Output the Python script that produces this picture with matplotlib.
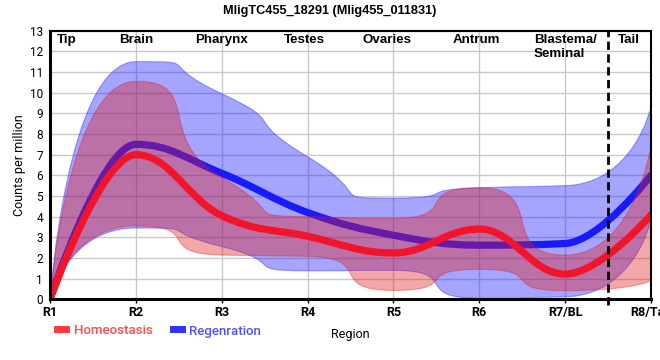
import matplotlib
matplotlib.use('Agg')
import matplotlib.pyplot as plt
from matplotlib.path import Path
from matplotlib.patches import PathPatch, Patch

# data =======================================================================
regions = ['R1', 'R2', 'R3', 'R4', 'R5', 'R6', 'R7/BL', 'R8/Tail']
tissues = ['Tip', 'Brain', 'Pharynx', 'Testes', 'Ovaries', 'Antrum', 'Blastema/\nSeminal', 'Tail']
tissue_pos = [0.2, 1.0, 2.0, 2.96, 3.93, 4.97, 6.0, 6.74]

homeo_mean = [0, 7.0, 4.05, 3.05, 2.24, 3.4, 1.22, 4.08]
homeo_low = [0, 3.55, 2.14, 2.08, 0.43, 1.45, 0.42, 0.9]
homeo_high = [0, 10.55, 5.9, 4.0, 3.92, 5.4, 2.14, 7.4]

regen_mean = [0, 7.5, 6.1, 4.2, 3.1, 2.62, 2.7, 6.0]
regen_low = [0, 3.45, 2.55, 1.38, 1.4, 0.05, 0.12, 3.8]
regen_high = [0, 11.5, 9.95, 6.9, 4.9, 5.4, 5.5, 9.3]

tail_cut = 6.5


def spline_verts(xs, ys, s=1.5):
    # bezier spline, control points clamped so there is no overshoot
    n = len(xs)
    d = s + 1
    lc = [None] * n
    rc = [None] * n
    for i in range(1, n - 1):
        x, y = xs[i], ys[i]
        lx, ly = xs[i - 1], ys[i - 1]
        nx, ny = xs[i + 1], ys[i + 1]
        lcx = (s * x + lx) / d
        lcy = (s * y + ly) / d
        rcx = (s * x + nx) / d
        rcy = (s * y + ny) / d
        corr = (rcy - lcy) * (rcx - x) / (rcx - lcx) + y - rcy
        lcy += corr
        rcy += corr
        if lcy > ly and lcy > y:
            lcy = max(ly, y); rcy = 2 * y - lcy
        elif lcy < ly and lcy < y:
            lcy = min(ly, y); rcy = 2 * y - lcy
        if rcy > ny and rcy > y:
            rcy = max(ny, y); lcy = 2 * y - rcy
        elif rcy < ny and rcy < y:
            rcy = min(ny, y); lcy = 2 * y - rcy
        lc[i] = (lcx, lcy)
        rc[i] = (rcx, rcy)
    verts = [(xs[0], ys[0])]
    for i in range(1, n):
        verts.append(rc[i - 1] if rc[i - 1] else (xs[i - 1], ys[i - 1]))
        verts.append(lc[i] if lc[i] else (xs[i], ys[i]))
        verts.append((xs[i], ys[i]))
    return verts


def draw_line(ax, ys, color, z):
    xs = list(range(len(ys)))
    v = spline_verts(xs, ys)
    codes = [Path.MOVETO] + [Path.CURVE4] * (len(v) - 1)
    ax.add_patch(PathPatch(Path(v, codes), fill=False, edgecolor=color, lw=5.2,
                           capstyle='round', joinstyle='round', zorder=z))


def draw_band(ax, low, high, color, alpha, z):
    xs = list(range(len(low)))
    up = spline_verts(xs, high, s=0.25)
    lo = spline_verts(xs, low, s=0.25)[::-1]
    v = up + lo + [up[0]]
    codes = ([Path.MOVETO] + [Path.CURVE4] * (len(up) - 1) + [Path.LINETO]
             + [Path.CURVE4] * (len(lo) - 1) + [Path.CLOSEPOLY])
    ax.add_patch(PathPatch(Path(v, codes), facecolor=color, alpha=alpha,
                           edgecolor=color, lw=0.8, zorder=z))


fig = plt.figure(figsize=(6.6, 3.6), dpi=100)
ax = fig.add_axes([50 / 660, 1 - 299.3 / 360, 601 / 660, 268.6 / 360])

draw_band(ax, regen_low, regen_high, '#1e1eff', 0.4, 2)
draw_line(ax, regen_mean, '#1a1aff', 3)
draw_band(ax, homeo_low, homeo_high, '#e01c1c', 0.38, 4)
draw_line(ax, homeo_mean, '#f2142a', 5)

ax.set_xlim(0, len(regions) - 1)
ax.set_ylim(0, 13)
ax.set_xticks(range(len(regions)))
ax.set_xticklabels(regions, fontfamily='Roboto', fontweight='bold', fontsize=9)
ax.set_yticks(range(14))
ax.set_yticklabels([str(i) for i in range(14)], fontfamily='Roboto', fontsize=8.5)
ax.tick_params(axis='y', length=0, pad=5)
ax.tick_params(axis='x', length=3, width=1, pad=2)
ax.grid(True, color='#c8c8c8', lw=1)
ax.set_axisbelow(True)

for side, w in [('left', 2.2), ('bottom', 2.2), ('top', 1.5), ('right', 1.5)]:
    ax.spines[side].set_linewidth(w)
    ax.spines[side].set_color('black')
    ax.spines[side].set_zorder(10)

ax.plot([tail_cut, tail_cut], [-0.3, 13], color='black', lw=2, ls=(0, (3, 1.6)),
        clip_on=False, zorder=9)

for name, xp in zip(tissues, tissue_pos):
    ax.text(xp, 12.85, name, ha='center', va='top', multialignment='left',
            fontfamily='Liberation Sans', fontweight='bold', fontsize=9.6,
            linespacing=1.2, zorder=11)

ax.set_ylabel('Counts per million', fontfamily='Roboto', fontsize=9, labelpad=3)
ax.set_xlabel('Region', fontfamily='Roboto', fontsize=9, labelpad=6)

fig.suptitle('MligTC455_18291 (Mlig455_011831)', x=0.5, y=0.985,
             fontfamily='Liberation Sans', fontweight='bold', fontsize=9.2)

handles = [Patch(facecolor='#ff3b3b'), Patch(facecolor='#3434ff')]
fig.legend(handles, ['Homeostasis', 'Regenration'], loc='center left',
           bbox_to_anchor=(54 / 660, 1 - 331 / 360), ncol=2, frameon=False,
           handlelength=1.2, handleheight=0.45, handletextpad=0.3,
           columnspacing=1.3, borderpad=0, borderaxespad=0,
           labelcolor=['#ff4a4a', '#5050ff'],
           prop={'family': 'Roboto', 'weight': 'medium', 'size': 9.5})

fig.savefig('out.png', dpi=100)
